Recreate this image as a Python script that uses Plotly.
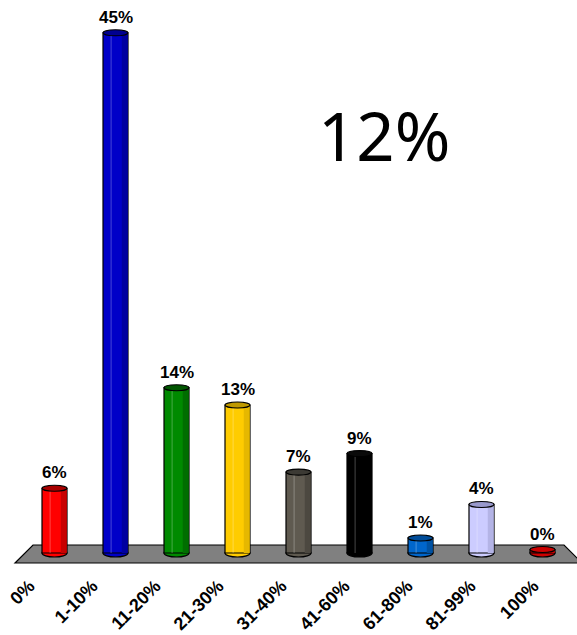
import plotly.graph_objects as go

W, H = 577, 635
categories = ["0%", "1-10%", "11-20%", "21-30%", "31-40%", "41-60%", "61-80%", "81-99%", "100%"]
values = [5.6, 45.0, 14.3, 12.8, 7.0, 8.6, 1.3, 4.2, 0.3]
labels = ["6%", "45%", "14%", "13%", "7%", "9%", "1%", "4%", "0%"]
face = ["#ff0000", "#0000c8", "#008a00", "#ffcc00", "#5f5a50", "#000000", "#0066cc", "#ccccff", "#cc0000"]
side = ["#c80000", "#0000a0", "#006e00", "#e6b800", "#4c4840", "#000000", "#0052a3", "#b4b4e6", "#cc0000"]
top = ["#a80000", "#000090", "#005500", "#bf9900", "#3c3a34", "#0a0a0a", "#004c99", "#9999cc", "#cc0000"]
big_label = "12%"

X0, DX = 54.5, 61.0
LABEL_X0, LABEL_DX = 55.5, 63.0
BASE, PPU, FLOOR_BOTTOM = 553.0, 11.56, 566.0
BAR_W = 25 / DX

xr = [-X0 / DX, (W - X0) / DX]
xr2 = [-LABEL_X0 / LABEL_DX, (W - LABEL_X0) / LABEL_DX]
yr = [-(FLOOR_BOTTOM - BASE) / PPU, BASE / PPU]
idx = list(range(len(categories)))

fig = go.Figure()
fig.add_trace(go.Bar(x=idx, y=values, width=BAR_W, marker=dict(color=face, line=dict(color="black", width=1.2)), hoverinfo="skip"))
fig.add_trace(go.Bar(x=idx, y=values, width=BAR_W * 0.24, offset=BAR_W * 0.25, marker=dict(color=side, line=dict(width=0)), hoverinfo="skip"))
fig.add_trace(go.Bar(x=idx, y=values, width=BAR_W * 0.05, offset=-BAR_W * 0.2, marker=dict(color="rgba(255,255,255,0.22)", line=dict(width=0)), hoverinfo="skip"))
# invisible carrier so the label axis is drawn
fig.add_trace(go.Scatter(x=idx, y=values, xaxis="x2", mode="markers", marker=dict(opacity=0, size=1), hoverinfo="skip"))

def px(x, y):
    return f"{x / W:.4f},{1 - y / H:.4f}"

shapes = [dict(type="path", xref="paper", yref="paper", layer="below",
               path=f"M {px(15, 563)} L {px(33, 545)} L {px(564, 545)} L {px(582, 563)} Z",
               fillcolor="#808080", line=dict(color="black", width=1.2))]
for i, v in enumerate(values):
    shapes.append(dict(type="circle", xref="x", yref="y", layer="below", xsizemode="pixel", ysizemode="pixel",
                       xanchor=i, yanchor=0, x0=-12.5, x1=12.5, y0=-4, y1=4,
                       fillcolor=face[i], line=dict(color="black", width=1.2)))
    shapes.append(dict(type="circle", xref="x", yref="y", layer="above", xsizemode="pixel", ysizemode="pixel",
                       xanchor=i, yanchor=v, x0=-12.5, x1=12.5, y0=-3, y1=3,
                       fillcolor=top[i], line=dict(color="black", width=1.1)))

annotations = [dict(x=i, y=v, xref="x", yref="y", text=labels[i], showarrow=False, yanchor="bottom", yshift=4,
                    font=dict(family="Liberation Sans", size=17, color="black", weight="bold"))
               for i, v in enumerate(values)]
annotations.append(dict(x=383.5 / W, y=1 - 135 / H, xref="paper", yref="paper", text=big_label, showarrow=False,
                        xanchor="center", yanchor="middle",
                        font=dict(family="Noto Sans", size=67, color="black")))

fig.update_layout(
    width=W, height=H, margin=dict(l=0, r=0, t=0, b=0, autoexpand=False), autosize=False,
    paper_bgcolor="white", plot_bgcolor="rgba(0,0,0,0)", showlegend=False, barmode="overlay",
    shapes=shapes, annotations=annotations,
    xaxis=dict(range=xr, showticklabels=False, automargin=False, showgrid=False, zeroline=False, showline=False, ticks=""),
    xaxis2=dict(range=xr2, overlaying="x", side="bottom", anchor="y", tickmode="array", tickvals=idx, ticktext=categories,
                tickangle=-45, automargin=False, showgrid=False, zeroline=False, showline=False, ticks="",
                ticklabelstandoff=5, ticklabelshift=-26,
                tickfont=dict(family="Liberation Sans", size=18, color="black", weight="bold")),
    yaxis=dict(range=yr, domain=[1 - FLOOR_BOTTOM / H, 1], automargin=False, showgrid=False, zeroline=False, showticklabels=False, ticks=""),
)
fig.write_html("out.html", config=dict(displayModeBar=False, responsive=False),
               default_width=W, default_height=H,
               post_script="document.body.style.margin='0';document.documentElement.style.overflow='hidden';")
